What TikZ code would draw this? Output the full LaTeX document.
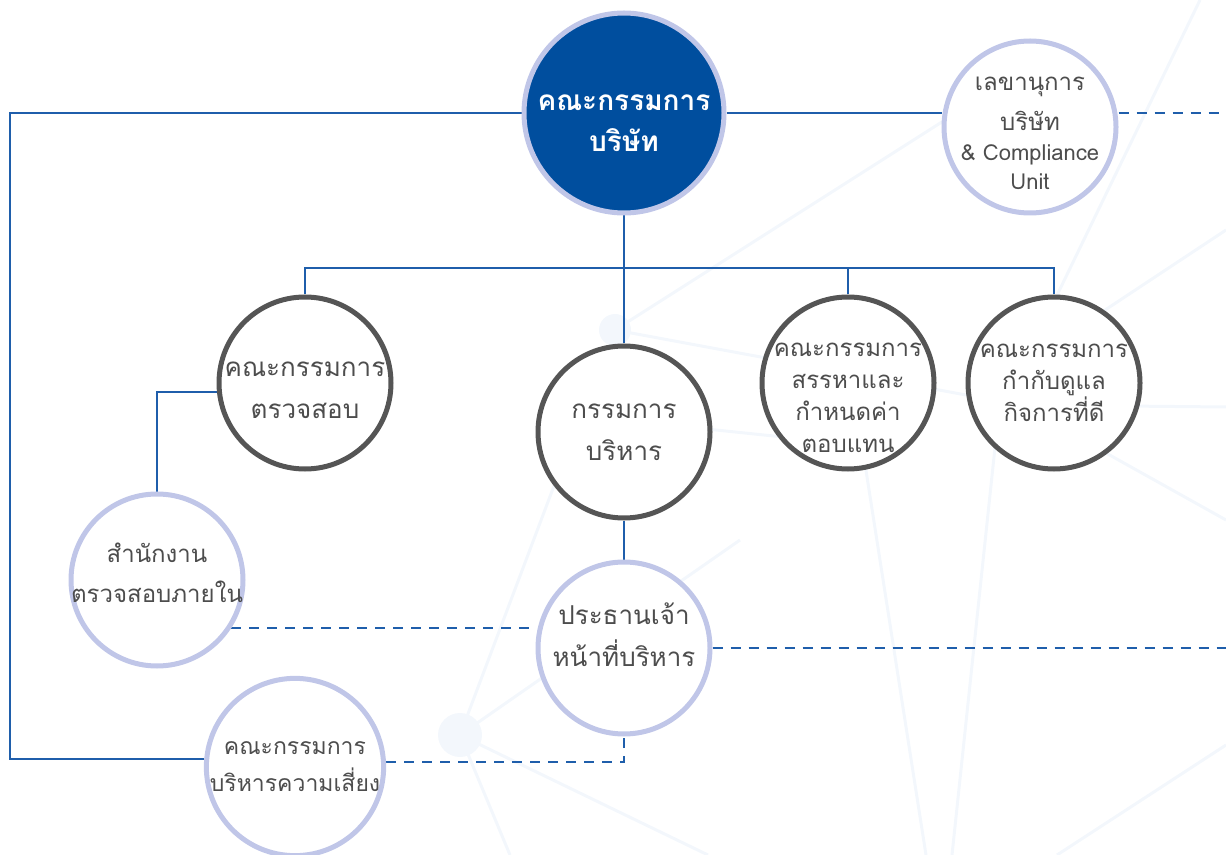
\documentclass[tikz,border=0pt]{standalone}
\usepackage{fontspec}
\newfontfamily\thaifont[Script=Thai]{Loma}
\usepackage{xcolor}
\usepackage{tikz}
\usetikzlibrary{positioning,backgrounds,calc}
\definecolor{boardblue}{HTML}{004E9E}
\definecolor{ringlav}{HTML}{C0C6E8}
\definecolor{ringgray}{HTML}{555555}
\definecolor{txtgray}{HTML}{4D4D4D}
\definecolor{linkblue}{HTML}{1F5EAB}
\definecolor{netfaint}{HTML}{F3F7FC}
\newcommand\latinsm{\fontsize{11}{14.5}\selectfont}
\newcommand\lifted[2]{\raisebox{#1}[0pt][0pt]{\begin{tabular}{@{}c@{}}#2\end{tabular}}}

\begin{document}
\begin{tikzpicture}[x=0.5pt, y=-0.5pt,
    unit/.style={circle, draw=ringgray, line width=2.5pt, fill=white, minimum size=86pt, inner sep=0pt, align=center, text=txtgray, font=\thaifont\fontsize{13}{21}\selectfont},
    staff/.style={unit, draw=ringlav},
    tight/.style={font=\thaifont\fontsize{12}{16}\selectfont},
    link/.style={draw=linkblue, line width=1pt},
    softlink/.style={link, dash pattern=on 5pt off 4pt},
    net/.style={draw=netfaint, line width=1.5pt}
  ]
    \useasboundingbox (0,0) rectangle (1226,855);

    \node[unit, draw=ringlav, fill=boardblue, text=white, minimum size=100pt, font=\thaifont\bfseries\fontsize{14}{20.5}\selectfont] (board) at (624,113) {\lifted{-8.5pt}{คณะกรรมการ\\บริษัท}};
    \node[staff, font=\thaifont\fontsize{12}{20}\selectfont] (secr) at (1030,127) {\lifted{-5.4pt}{เลขานุการ\\บริษัท\\[-5pt]\latinsm\&~Compliance\\[-5.5pt]\latinsm Unit}};
    \node[unit] (audit) at (305,383) {\lifted{-6.1pt}{คณะกรรมการ\\ตรวจสอบ}};
    \node[unit] (exec) at (624,432) {กรรมการ\\บริหาร};
    \node[unit, tight] (nomin) at (848,383) {\lifted{-10.75pt}{คณะกรรมการ\\สรรหาและ\\กำหนดค่า\\ตอบแทน}};
    \node[unit, tight] (gov) at (1054,383) {คณะกรรมการ\\กำกับดูแล\\กิจการที่ดี};
    \node[staff, font=\thaifont\fontsize{12}{20}\selectfont] (intaudit) at (157,580) {\lifted{0pt}{สำนักงาน\\ตรวจสอบภายใน}};
    \node[staff] (ceo) at (624,648) {\lifted{2.6pt}{ประธานเจ้า\\หน้าที่บริหาร}};
    \node[staff, font=\thaifont\fontsize{11.5}{18.5}\selectfont] (risk) at (295,767) {คณะกรรมการ\\บริหารความเสี่ยง};

    \coordinate (lcorner) at (10,113);
    \coordinate (bus) at (624,268);
    \coordinate (redge) at (1226,113);

    \begin{scope}[on background layer]
      \fill[netfaint] (615,330) circle (16) (460,735) circle (22);
      \draw[net] (615,330) -- (945,120);
      \draw[net] (615,330) -- (1020,405) -- (1226,407);
      \draw[net] (1200,0) -- (1045,320);
      \draw[net] (1090,320) -- (1226,230);
      \draw[net] (1020,405) -- (1226,520);
      \draw[net] (1000,400) -- (952,855);
      \draw[net] (855,400) -- (926,855);
      \draw[net] (620,420) -- (860,445);
      \draw[net] (1226,745) -- (1057,855);
      \draw[net] (460,735) -- (560,470);
      \draw[net] (460,735) -- (740,540);
      \draw[net] (460,735) -- (510,855);
      \draw[net] (460,735) -- (708,855);

      \draw[link] (board.west) -- (lcorner) |- (risk.175);
      \draw[link] (board.east) -- (board.east -| secr.west);
      \draw[link] (board.south) -- (exec.north);
      \draw[link] (audit.north) -- (audit.north |- bus) -- (gov.north |- bus) -- (gov.north);
      \draw[link] (nomin.north) -- (nomin.north |- bus);
      \draw[link] (audit.186) -| (intaudit.north);
      \draw[link] (exec.south) -- (ceo.north);

      \draw[softlink] (secr.east |- board.east) -- (redge);
      \draw[softlink] (intaudit.-33) -- (intaudit.-33 -| ceo.west);
      \draw[softlink] (ceo.east) -- (ceo.east -| redge);
      \draw[softlink] (risk.3) -- (risk.3 -| ceo.south) -- (ceo.south);
    \end{scope}
  \end{tikzpicture}
\end{document}
